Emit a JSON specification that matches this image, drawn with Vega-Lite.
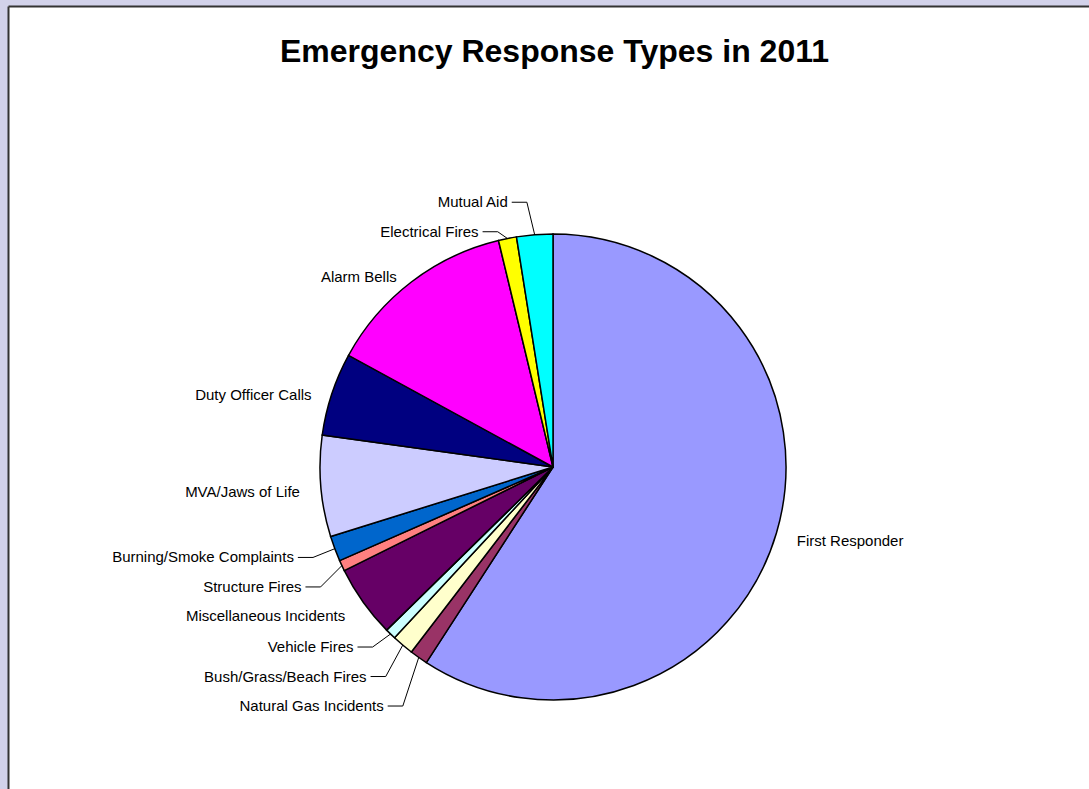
{
  "$schema": "https://vega.github.io/schema/vega-lite/v6.json",
  "width": 1081,
  "height": 783,
  "padding": {"left": 8, "top": 6, "right": 0, "bottom": 0},
  "autosize": {"type": "none"},
  "background": "#D2D2EA",
  "title": {
    "text": "Emergency Response Types in 2011",
    "font": "Liberation Sans",
    "fontSize": 32,
    "fontWeight": "bold",
    "color": "black",
    "anchor": "middle",
    "frame": "group",
    "baseline": "alphabetic",
    "offset": -88,
    "dx": 6
  },
  "config": {
    "view": {"stroke": null, "fill": "white"},
    "axis": {"domainColor": "#333333", "domainWidth": 2, "ticks": false, "labels": false, "grid": false}
  },
  "data": {
    "values": [
      {"type": "First Responder", "count": 236, "rank": 1},
      {"type": "Natural Gas Incidents", "count": 5, "rank": 2},
      {"type": "Bush/Grass/Beach Fires", "count": 6, "rank": 3},
      {"type": "Vehicle Fires", "count": 3, "rank": 4},
      {"type": "Miscellaneous Incidents", "count": 20, "rank": 5},
      {"type": "Structure Fires", "count": 3, "rank": 6},
      {"type": "Burning/Smoke Complaints", "count": 7, "rank": 7},
      {"type": "MVA/Jaws of Life", "count": 28, "rank": 8},
      {"type": "Duty Officer Calls", "count": 23, "rank": 9},
      {"type": "Alarm Bells", "count": 53, "rank": 10},
      {"type": "Electrical Fires", "count": 5, "rank": 11},
      {"type": "Mutual Aid", "count": 10, "rank": 12}
    ]
  },
  "transform": [
    {"joinaggregate": [{"op": "sum", "field": "count", "as": "total"}]},
    {"window": [{"op": "sum", "field": "count", "as": "cum"}], "sort": [{"field": "rank", "order": "ascending"}], "frame": [null, 0]},
    {"calculate": "2 * PI * (datum.cum - datum.count / 2) / datum.total", "as": "mid"},
    {"calculate": "sin(datum.mid)", "as": "ex"},
    {"calculate": "cos(datum.mid)", "as": "ey"},
    {"calculate": "datum.ex >= 0 ? 'R' : 'L'", "as": "side"},
    {"calculate": "datum.ey >= 0 ? 'T' : 'B'", "as": "half"},
    {"calculate": "datum.count / datum.total < 0.035", "as": "small"},
    {"calculate": "1.07 * datum.ex", "as": "lx0"},
    {"calculate": "-1.05 * datum.ey + 0.02", "as": "d0"},
    {"calculate": "((datum.side == 'L') == (datum.half == 'B')) ? -datum.mid : datum.mid", "as": "pkey"},
    {"window": [{"op": "row_number", "as": "k"}], "groupby": ["side", "half"], "sort": [{"field": "pkey", "order": "ascending"}]},
    {"calculate": "datum.d0 - datum.k * 0.1266", "as": "zb"},
    {"calculate": "datum.d0 + datum.k * 0.1266", "as": "zt"},
    {"window": [{"op": "max", "field": "zb", "as": "mb"}, {"op": "min", "field": "zt", "as": "mt"}], "groupby": ["side", "half"], "sort": [{"field": "pkey", "order": "ascending"}], "frame": [null, 0]},
    {"calculate": "datum.half == 'B' ? -(datum.mb + datum.k * 0.1266) : -(datum.mt - datum.k * 0.1266)", "as": "ly"},
    {"calculate": "datum.side == 'L' ? datum.lx0 - (datum.small ? 0.11 : 0.02) : datum.lx0 + (datum.small ? 0.11 : 0.02)", "as": "lx"},
    {"calculate": "datum.side == 'L' ? datum.lx + 0.017 : datum.lx - 0.017", "as": "p1x"},
    {"calculate": "datum.side == 'L' ? datum.lx + 0.082 : datum.lx - 0.082", "as": "p2x"}
  ],
  "layer": [
    {
      "mark": {"type": "arc", "outerRadius": 233, "stroke": "black", "strokeWidth": 1.5},
      "encoding": {
        "x": {"datum": 0, "type": "quantitative", "scale": {"domain": [-2.3391, 2.3004], "nice": false, "zero": false}, "axis": {"orient": "top", "title": null}},
        "y": {"datum": 0, "type": "quantitative", "scale": {"domain": [-1.38197, 1.97854], "nice": false, "zero": false}, "axis": {"orient": "left", "title": null}},
        "theta": {"field": "count", "type": "quantitative", "stack": true},
        "order": {"field": "rank", "type": "quantitative"},
        "color": {
          "field": "type",
          "type": "nominal",
          "legend": null,
          "scale": {
            "domain": ["First Responder", "Natural Gas Incidents", "Bush/Grass/Beach Fires", "Vehicle Fires", "Miscellaneous Incidents", "Structure Fires", "Burning/Smoke Complaints", "MVA/Jaws of Life", "Duty Officer Calls", "Alarm Bells", "Electrical Fires", "Mutual Aid"],
            "range": ["#9999FF", "#993366", "#FFFFCC", "#CCFFFF", "#660066", "#FF8080", "#0066CC", "#CCCCFF", "#000080", "#FF00FF", "#FFFF00", "#00FFFF"]
          }
        }
      }
    },
    {
      "transform": [{"filter": "datum.small"}],
      "mark": {"type": "rule", "stroke": "black", "strokeWidth": 1},
      "encoding": {
        "x": {"field": "p1x", "type": "quantitative", "scale": {"domain": [-2.3391, 2.3004], "nice": false, "zero": false}, "axis": {"orient": "top", "title": null}},
        "x2": {"field": "p2x"},
        "y": {"field": "ly", "type": "quantitative", "scale": {"domain": [-1.38197, 1.97854], "nice": false, "zero": false}, "axis": {"orient": "left", "title": null}}
      }
    },
    {
      "transform": [{"filter": "datum.small"}],
      "mark": {"type": "rule", "stroke": "black", "strokeWidth": 1},
      "encoding": {
        "x": {"field": "p2x", "type": "quantitative", "scale": {"domain": [-2.3391, 2.3004], "nice": false, "zero": false}, "axis": {"orient": "top", "title": null}},
        "x2": {"field": "ex"},
        "y": {"field": "ly", "type": "quantitative", "scale": {"domain": [-1.38197, 1.97854], "nice": false, "zero": false}, "axis": {"orient": "left", "title": null}},
        "y2": {"field": "ey"}
      }
    },
    {
      "transform": [{"filter": "datum.side == 'L'"}],
      "mark": {"type": "text", "align": "right", "baseline": "middle", "font": "Liberation Sans", "fontSize": 15, "color": "black"},
      "encoding": {
        "x": {"field": "lx", "type": "quantitative", "scale": {"domain": [-2.3391, 2.3004], "nice": false, "zero": false}, "axis": {"orient": "top", "title": null}},
        "y": {"field": "ly", "type": "quantitative", "scale": {"domain": [-1.38197, 1.97854], "nice": false, "zero": false}, "axis": {"orient": "left", "title": null}},
        "text": {"field": "type", "type": "nominal"}
      }
    },
    {
      "transform": [{"filter": "datum.side == 'R'"}],
      "mark": {"type": "text", "align": "left", "baseline": "middle", "font": "Liberation Sans", "fontSize": 15, "color": "black"},
      "encoding": {
        "x": {"field": "lx", "type": "quantitative", "scale": {"domain": [-2.3391, 2.3004], "nice": false, "zero": false}, "axis": {"orient": "top", "title": null}},
        "y": {"field": "ly", "type": "quantitative", "scale": {"domain": [-1.38197, 1.97854], "nice": false, "zero": false}, "axis": {"orient": "left", "title": null}},
        "text": {"field": "type", "type": "nominal"}
      }
    }
  ]
}
